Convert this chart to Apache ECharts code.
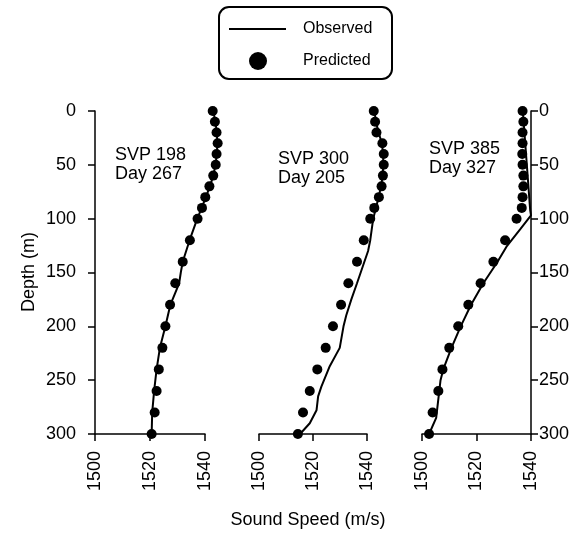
<!DOCTYPE html>
<html>
<head>
<meta charset="utf-8">
<script src="https://cdn.jsdelivr.net/npm/echarts@6/dist/echarts.min.js"></script>
<style>
  html, body { margin: 0; padding: 0; background: #fff; }
  #chart { width: 582px; height: 535px; }
</style>
</head>
<body>
<div id="chart"></div>
<script>
  // depths for the predicted dots (m)
  var predDepth = [0, 10, 20, 30, 40, 50, 60, 70, 80, 90, 100, 120, 140, 160, 180, 200, 220, 240, 260, 280, 300];

  // SVP 198 / Day 267
  var pred198 = [1542.8, 1543.6, 1544.2, 1544.6, 1544.2, 1543.9, 1543.0, 1541.6, 1540.1, 1538.9, 1537.3, 1534.5, 1531.9, 1529.2, 1527.3, 1525.6, 1524.5, 1523.2, 1522.4, 1521.7, 1520.6];
  var obsDepth198 = [0, 10, 20, 30, 40, 50, 60, 70, 80, 90, 100, 120, 140, 150, 160, 180, 200, 220, 240, 260, 280, 300];
  var obs198 = [1543.0, 1543.8, 1544.3, 1544.5, 1544.3, 1543.8, 1543.0, 1541.8, 1540.3, 1538.8, 1537.2, 1534.4, 1531.9, 1531.2, 1530.6, 1527.4, 1525.6, 1523.6, 1522.4, 1521.5, 1520.8, 1520.6];

  // SVP 300 / Day 205
  var pred300 = [1542.5, 1543.0, 1543.5, 1545.7, 1546.2, 1546.2, 1545.9, 1545.4, 1544.4, 1542.7, 1541.2, 1538.8, 1536.3, 1533.1, 1530.4, 1527.4, 1524.7, 1521.6, 1518.8, 1516.3, 1514.4];
  var obsDepth300 = [0, 10, 20, 30, 40, 50, 60, 70, 80, 90, 100, 120, 130, 160, 175, 190, 200, 220, 237, 256, 265, 278, 290, 300];
  var obs300 = [1542.8, 1543.3, 1544.3, 1545.5, 1546.0, 1546.0, 1545.8, 1545.2, 1544.3, 1543.3, 1542.3, 1541.2, 1540.4, 1536.3, 1534.2, 1532.3, 1531.3, 1529.9, 1526.2, 1523.1, 1521.9, 1521.3, 1518.8, 1515.2];

  // SVP 385 / Day 327
  var pred385 = [1536.9, 1537.2, 1536.9, 1536.9, 1536.8, 1536.9, 1537.2, 1537.2, 1536.9, 1536.6, 1534.7, 1530.5, 1526.2, 1521.5, 1517.0, 1513.3, 1510.0, 1507.5, 1506.0, 1503.9, 1502.6];
  var obsDepth385 = [0, 92, 97, 110, 126, 141, 160, 180, 200, 220, 240, 250, 285, 300];
  var obs385 = [1537.0, 1539.7, 1540.0, 1536.0, 1531.0, 1527.5, 1522.5, 1518.0, 1514.2, 1510.8, 1507.8, 1506.8, 1505.2, 1502.6];

  var speedTicks = [1500, 1540, 20];
  var depthTicks = [0, 300, 50];
  // the data layer runs a bit past 1540 because some values sit beyond the axis end
  var speedDataMax = 1550;

  var font = 'Liberation Sans, Arial, sans-serif';

  // panel placement (px)
  var panelLeft = [95, 259, 422];
  var panelWidth = [110, 108, 109];
  var panelTop = 111, panelHeight = 323;

  function pairs(xs, ys) {
    var out = [];
    for (var i = 0; i < xs.length; i++) {
      out.push([xs[i], ys[i]]);
    }
    return out;
  }

  function xAxisFor(idx) {
    return {
      gridIndex: idx,
      type: 'value',
      min: speedTicks[0],
      max: speedTicks[1],
      interval: speedTicks[2],
      position: 'bottom',
      splitLine: { show: false },
      axisLine: { show: true, onZero: false, lineStyle: { color: '#000', width: 1.5 } },
      axisTick: { show: true, length: 7, lineStyle: { color: '#000', width: 1.5 } },
      axisLabel: {
        rotate: 90, margin: 17, color: '#000', fontSize: 18, fontFamily: font,
        formatter: function (v) { return String(v); }
      }
    };
  }

  function yAxisFor(idx, pos, visible, margin) {
    return {
      gridIndex: idx,
      type: 'value',
      inverse: true,
      min: depthTicks[0],
      max: depthTicks[1],
      interval: depthTicks[2],
      position: pos,
      show: visible,
      splitLine: { show: false },
      axisLine: { show: true, lineStyle: { color: '#000', width: 1.5 } },
      axisTick: { show: true, length: 7, lineStyle: { color: '#000', width: 1.5 } },
      axisLabel: { margin: margin, color: '#000', fontSize: 18, fontFamily: font }
    };
  }

  // hidden axes for the data layer, same scale as the visible ones
  function dataXAxis(idx) {
    return { gridIndex: idx, type: 'value', min: speedTicks[0], max: speedDataMax, show: false, splitLine: { show: false } };
  }
  function dataYAxis(idx) {
    return { gridIndex: idx, type: 'value', inverse: true, min: depthTicks[0], max: depthTicks[1], show: false, splitLine: { show: false } };
  }

  function obsSeries(idx, depths, speeds) {
    return {
      name: 'Observed',
      type: 'line',
      xAxisIndex: idx,
      yAxisIndex: idx,
      data: pairs(speeds, depths),
      symbol: 'none',
      clip: false,
      lineStyle: { color: '#000', width: 2 },
      itemStyle: { color: '#000' },
      z: 3
    };
  }

  function predSeries(idx, speeds) {
    return {
      name: 'Predicted',
      type: 'scatter',
      xAxisIndex: idx,
      yAxisIndex: idx,
      data: pairs(speeds, predDepth),
      symbol: 'circle',
      symbolSize: 10,
      clip: false,
      itemStyle: { color: '#000', opacity: 1 },
      z: 4
    };
  }

  var grids = [];
  var i;
  for (i = 0; i < 3; i++) {
    grids.push({ left: panelLeft[i], top: panelTop, width: panelWidth[i], height: panelHeight });
  }
  for (i = 0; i < 3; i++) {
    var w = panelWidth[i] * (speedDataMax - speedTicks[0]) / (speedTicks[1] - speedTicks[0]);
    grids.push({ left: panelLeft[i], top: panelTop, width: w, height: panelHeight });
  }

  var chart = echarts.init(document.getElementById('chart'));
  chart.setOption({
    animation: false,
    backgroundColor: '#fff',
    textStyle: { fontFamily: font },
    grid: grids,
    xAxis: [xAxisFor(0), xAxisFor(1), xAxisFor(2), dataXAxis(3), dataXAxis(4), dataXAxis(5)],
    yAxis: [
      yAxisFor(0, 'left', true, 19),
      yAxisFor(1, 'left', false, 8),
      yAxisFor(2, 'right', true, 8),
      dataYAxis(3), dataYAxis(4), dataYAxis(5)
    ],
    legend: [
      {
        data: [{ name: 'Observed', icon: 'rect' }],
        left: 229, top: 21, padding: 0,
        itemWidth: 57, itemHeight: 2,
        textStyle: { color: '#000', fontSize: 16, fontFamily: font, padding: [0, 0, 0, 12] }
      },
      {
        data: [{ name: 'Predicted', icon: 'circle' }],
        left: 249, top: 52, padding: 0,
        itemWidth: 18, itemHeight: 18,
        textStyle: { color: '#000', fontSize: 16, fontFamily: font, padding: [0, 0, 0, 31] }
      }
    ],
    graphic: [
      {
        type: 'rect',
        shape: { x: 219, y: 7, width: 173, height: 72, r: 10 },
        style: { fill: 'none', stroke: '#000', lineWidth: 2 }
      },
      {
        type: 'text', left: 115, top: 146,
        style: { text: 'SVP 198\nDay 267', fontSize: 18, lineHeight: 19, fill: '#000', fontFamily: font }
      },
      {
        type: 'text', left: 278, top: 150,
        style: { text: 'SVP 300\nDay 205', fontSize: 18, lineHeight: 19, fill: '#000', fontFamily: font }
      },
      {
        type: 'text', left: 429, top: 140,
        style: { text: 'SVP 385\nDay 327', fontSize: 18, lineHeight: 19, fill: '#000', fontFamily: font }
      },
      {
        type: 'text', x: 29, y: 272, rotation: Math.PI / 2,
        style: { text: 'Depth (m)', fontSize: 18, fill: '#000', fontFamily: font, align: 'center', verticalAlign: 'middle' }
      },
      {
        type: 'text', x: 308, y: 520,
        style: { text: 'Sound Speed (m/s)', fontSize: 18, fill: '#000', fontFamily: font, align: 'center', verticalAlign: 'middle' }
      }
    ],
    series: [
      obsSeries(3, obsDepth198, obs198),
      predSeries(3, pred198),
      obsSeries(4, obsDepth300, obs300),
      predSeries(4, pred300),
      obsSeries(5, obsDepth385, obs385),
      predSeries(5, pred385)
    ]
  });
</script>
</body>
</html>
